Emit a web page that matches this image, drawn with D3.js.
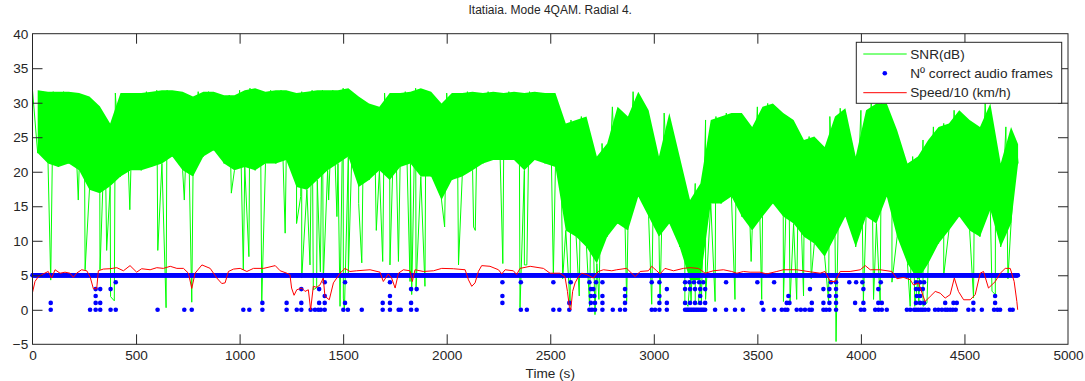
<!DOCTYPE html>
<html>
<head>
<meta charset="utf-8">
<script src="https://cdn.jsdelivr.net/npm/d3@7"></script>
<style>
  body { margin: 0; background: #fff; }
  text { font-family: "Liberation Sans", Arial, sans-serif; }
</style>
</head>
<body>
<div id="container"></div>
<script>
/* DATA */
const xTicks = [0, 500, 1000, 1500, 2000, 2500, 3000, 3500, 4000, 4500, 5000];
const yTicks = [-5, 0, 5, 10, 15, 20, 25, 30, 35, 40];
const legendLabels = ["SNR(dB)", "N\u00ba correct audio frames", "Speed/10 (km/h)"];

// SNR: one envelope pair per 50 s bin (upper edge, lower edge of the dense band)
const snrBin = 50;
const snrHigh = [31.8, 31.6, 31.6, 31.6, 31.4, 30.9, 29.5, 27.0, 31.4, 31.4,
  31.4, 31.6, 31.8, 31.8, 31.6, 30.9, 31.6, 31.6, 31.1, 31.1,
  31.8, 32.1, 31.6, 31.8, 31.8, 31.4, 31.6, 31.8, 31.8, 31.8,
  32.1, 30.9, 29.9, 29.4, 31.4, 31.4, 31.6, 32.1, 31.6, 29.9,
  31.4, 31.4, 31.6, 31.4, 31.6, 31.4, 31.6, 31.4, 31.6, 31.4,
  31.4, 27.0, 27.5, 28.0, 22.2, 24.1, 29.4, 28.0, 31.6, 28.9,
  22.2, 28.5, 22.2, 15.9, 18.3, 27.5, 28.0, 28.5, 28.5, 26.5,
  29.4, 29.9, 28.5, 27.5, 24.6, 25.1, 23.6, 28.0, 29.2, 22.2,
  28.9, 29.9, 29.9, 26.0, 21.2, 22.2, 24.6, 26.5, 27.0, 28.9,
  27.5, 26.5, 29.9, 21.2, 26.5, 24.0];
const snrLow = [22.7, 21.2, 20.7, 21.2, 20.2, 17.4, 16.9, 17.9, 19.3, 20.2,
  20.2, 20.7, 21.2, 22.2, 20.2, 19.3, 22.2, 23.1, 21.2, 20.2,
  20.7, 20.2, 21.2, 21.2, 21.7, 17.8, 17.4, 18.8, 20.2, 21.2,
  22.2, 17.8, 18.8, 20.2, 18.8, 20.7, 21.2, 19.3, 19.3, 15.9,
  18.8, 19.3, 20.2, 21.2, 21.7, 21.7, 21.7, 20.2, 21.7, 21.2,
  20.7, 11.5, 10.6, 9.1, 6.7, 10.6, 12.5, 11.5, 16.4, 13.5,
  10.6, 12.5, 9.1, 4.3, 4.3, 15.4, 15.4, 16.4, 13.5, 11.5,
  13.5, 15.4, 13.5, 12.5, 10.6, 9.6, 7.7, 10.6, 13.5, 9.1,
  13.5, 12.5, 16.4, 10.6, 6.7, 4.3, 6.7, 9.6, 11.5, 13.5,
  11.5, 10.6, 14.5, 9.1, 12.5, 21.2];
const snrEnd = 4759;
// deep SNR drops: [time, lowest value]
const snrDrops = [[88, 4.3], [221, 15.9], [254, 5.8], [326, 5.8], [358, 8.6], [377, 1.9],
  [395, 1.3], [470, 14.5], [605, 8.6], [645, 0.3], [733, 15.9], [769, 1.1], [960, 16.9],
  [1018, 5.8], [1045, 7.7], [1107, 1.2], [1220, 11.1], [1275, 12.5], [1295, 16.4],
  [1300, 4.6], [1340, 6.5], [1356, 2.9], [1372, 3.2], [1390, 5.5], [1404, 4.1],
  [1430, 15.9], [1470, 13.5], [1485, 0.5], [1501, 1.7], [1506, -0.2], [1525, 5.1],
  [1575, 15.4], [1590, 6.8], [1660, 11.5], [1691, 7.0], [1726, 6.5], [1767, 7.0],
  [1823, 4.1], [1831, 2.2], [1852, 3.1], [1895, 3.4], [1990, 12.0], [2057, 6.5],
  [2130, 12.0], [2138, 11.5], [2271, 6.7], [2354, 0.3], [2375, 6.5], [2387, 6.5],
  [2515, 5.0], [2560, 4.5], [2596, 0.5], [2640, 2.0], [2690, 0.5], [2716, -0.7],
  [2735, 1.5], [2869, 1.2], [2990, 0.8], [3030, 0.8], [3150, 1.2], [3165, 0.5],
  [3180, 1.2], [3200, 1.0], [3215, 0.8], [3230, 1.2], [3250, 1.5], [3296, 1.2],
  [3392, 1.5], [3470, 7.0], [3521, 1.5], [3626, 1.2], [3658, 1.2], [3690, 1.5],
  [3723, 2.0], [3760, 4.5], [3844, 1.2], [3880, -4.6], [4012, 1.2], [4061, 1.5],
  [4093, 1.2], [4150, 4.0], [4238, 0.5], [4260, 0.5], [4280, 0.8], [4300, 0.5],
  [4319, 1.0], [4400, 5.0], [4544, 1.7], [4633, 2.7], [4649, 2.2], [4710, 4.5]];

// correct audio frames: 5 over the whole run, except at these times
const fullFrameSpan = [0, 4759];
const frames4 = [402, 1411, 1509, 1726, 2269, 2358, 2515, 2599, 2689, 2721, 2752, 2990, 3027,
  3151, 3172, 3194, 3219, 3239, 3349, 3500, 3581, 3855, 3880, 3944, 3977, 4007, 4096,
  4266, 4286, 4305];
const frames3 = [305, 327, 377, 1298, 1384, 1828, 1855, 2696, 2708, 2861, 3063, 3151, 3175,
  3199, 3224, 3248, 3754, 3819, 3848, 3880, 4012, 4084, 4266, 4282, 4299];
const frames2 = [305, 1411, 1726, 2269, 2696, 2713, 2752, 2861, 3027, 3224, 3650, 3848, 3880,
  4270, 4286, 4648];
const frames1 = [88, 305, 327, 1110, 1227, 1298, 1384, 1411, 1509, 1691, 1726, 1828, 2269,
  2592, 2696, 2716, 2752, 2861, 3027, 3063, 3151, 3175, 3199, 3224, 3248, 3521, 3642,
  3655, 3763, 3819, 3848, 3880, 3972, 4012, 4084, 4101, 4266, 4286, 4305, 4407, 4447,
  4463, 4543, 4648];
const frames0 = [88, 278, 305, 327, 377, 402, 604, 733, 769, 1018, 1047, 1110, 1227, 1276,
  1298, 1343, 1364, 1380, 1392, 1411, 1501, 1523, 1590, 1691, 1726, 1768, 1778, 1828,
  1855, 2358, 2387, 2515, 2544, 2592, 2689, 2701, 2716, 2752, 2802, 2837, 2861, 2990,
  3006, 3027, 3063, 3151, 3160, 3167, 3175, 3183, 3191, 3199, 3207, 3215, 3224, 3232,
  3240, 3248, 3296, 3349, 3392, 3430, 3529, 3581, 3618, 3634, 3645, 3690, 3710, 3730,
  3751, 3763, 3819, 3832, 3848, 3880, 4000, 4016, 4069, 4085, 4101, 4125, 4222, 4238,
  4257, 4266, 4277, 4289, 4299, 4310, 4326, 4358, 4374, 4391, 4407, 4418, 4431, 4444,
  4458, 4519, 4543, 4584, 4643, 4659, 4672, 4720, 4733];

// speed / 10: [time, value]
const speed = [[0, 2.5], [12, 4.1], [28, 4.8], [52, 5.2], [76, 5.55], [92, 4.6], [109, 5.8],
  [133, 5.3], [157, 5.45], [181, 5.3], [197, 4.7], [213, 5.3], [237, 5.8], [262, 5.65],
  [278, 4.8], [294, 3.05], [310, 3.05], [318, 5.65], [342, 5.9], [374, 5.95], [407, 6.1],
  [439, 5.65], [471, 6.4], [503, 5.45], [527, 5.95], [568, 5.8], [600, 6.1], [632, 6.0],
  [665, 6.3], [697, 6.0], [729, 6.0], [753, 5.3], [769, 3.1], [785, 5.3], [818, 6.5],
  [858, 6.0], [890, 4.6], [914, 3.8], [930, 3.9], [946, 5.55], [971, 5.9], [1003, 6.0],
  [1035, 5.55], [1067, 6.0], [1116, 6.0], [1172, 6.4], [1196, 5.65], [1228, 5.3],
  [1243, 5.1], [1251, 3.15], [1263, 2.1], [1276, 2.9], [1300, 3.15], [1316, 2.66],
  [1332, 2.9], [1343, 0.0], [1356, 3.4], [1372, 3.25], [1388, 3.6], [1404, 4.6],
  [1412, 1.95], [1433, 1.45], [1453, 3.9], [1469, 4.6], [1485, 5.3], [1509, 6.0],
  [1533, 5.55], [1565, 5.65], [1630, 5.8], [1678, 5.45], [1694, 4.1], [1718, 5.2],
  [1734, 4.6], [1751, 3.15], [1767, 5.3], [1791, 5.8], [1823, 5.65], [1834, 4.1],
  [1847, 5.8], [1887, 5.55], [1936, 5.65], [1976, 6.0], [2032, 5.95], [2089, 5.8],
  [2105, 4.35], [2121, 3.4], [2137, 3.9], [2153, 5.55], [2169, 6.4], [2209, 6.3],
  [2250, 5.8], [2266, 5.2], [2282, 5.8], [2322, 5.65], [2338, 5.1], [2354, 6.0],
  [2403, 6.3], [2467, 6.0], [2499, 5.3], [2547, 5.3], [2571, 4.8], [2583, 2.66],
  [2592, 0.5], [2599, 0.0], [2608, 2.66], [2620, 3.9], [2636, 4.8], [2652, 5.3],
  [2676, 5.1], [2708, 4.6], [2732, 5.55], [2757, 5.8], [2797, 5.65], [2821, 5.8],
  [2869, 6.0], [2910, 4.8], [2934, 5.55], [2974, 5.65], [2990, 6.3], [3014, 5.65],
  [3030, 5.2], [3054, 6.0], [3095, 5.65], [3143, 6.0], [3175, 6.1], [3215, 6.0],
  [3248, 5.3], [3288, 5.65], [3336, 5.8], [3376, 5.55], [3401, 5.3], [3433, 5.55],
  [3465, 5.45], [3513, 5.45], [3545, 5.2], [3594, 5.55], [3626, 5.8], [3690, 5.8],
  [3755, 5.5], [3803, 5.3], [3827, 5.55], [3852, 4.1], [3876, 4.1], [3900, 5.55],
  [3948, 5.55], [3997, 5.8], [4021, 6.4], [4045, 5.8], [4093, 5.8], [4149, 5.55],
  [4174, 4.5], [4206, 4.7], [4238, 4.35], [4254, 3.6], [4278, 3.9], [4310, 1.2],
  [4335, 1.95], [4359, 2.66], [4383, 2.4], [4407, 1.7], [4431, 2.2], [4451, 4.6],
  [4471, 2.66], [4496, 1.45], [4528, 1.45], [4552, 2.2], [4576, 5.3], [4592, 5.55],
  [4616, 3.15], [4649, 4.1], [4673, 5.3], [4697, 6.0], [4721, 6.0], [4740, 4.1],
  [4753, 1.2], [4757, 0.0]];

/* LAYOUT */
const width = 1085, height = 381;
const plot = { left: 32.5, right: 1068, top: 33.7, bottom: 344.3 };
const axisColor = "#262626";
const fontSize = 13.6;

const xScale = d3.scaleLinear().domain([0, 5000]).range([plot.left, plot.right]);
const yScale = d3.scaleLinear().domain([-5, 40]).range([plot.bottom, plot.top]);

const svg = d3.select("#container")
  .append("svg")
  .attr("width", width)
  .attr("height", height)
  .style("display", "block");

svg.append("rect").attr("width", width).attr("height", height).attr("fill", "#fff");

/* SNR */
const snrBins = snrHigh.map((h, i) => ({
  t0: i * snrBin,
  tm: Math.min(i * snrBin + snrBin / 2, snrEnd),
  hi: h,
  lo: snrLow[i]
}));

const snrArea = d3.area()
  .x(d => xScale(d.tm))
  .y0(d => yScale(d.lo))
  .y1(d => yScale(d.hi));

svg.append("path")
  .datum(snrBins)
  .attr("d", snrArea)
  .attr("fill", "#00ff00");

let snrPoints = [];
snrBins.forEach(d => {
  snrPoints.push([d.t0, d.hi]);
  snrPoints.push([d.tm, d.lo]);
});
snrPoints = snrPoints.concat(snrDrops).sort((a, b) => a[0] - b[0]);

svg.append("path")
  .datum(snrPoints)
  .attr("d", d3.line().x(d => xScale(d[0])).y(d => yScale(d[1])))
  .attr("fill", "none")
  .attr("stroke", "#00ff00")
  .attr("stroke-width", 1);

/* FRAMES */
const framePoints = d3.range(fullFrameSpan[0], fullFrameSpan[1] + 1, 2).map(t => [t, 5])
  .concat(frames4.map(t => [t, 4]))
  .concat(frames3.map(t => [t, 3]))
  .concat(frames2.map(t => [t, 2]))
  .concat(frames1.map(t => [t, 1]))
  .concat(frames0.map(t => [t, 0]));

svg.append("g")
  .selectAll("circle")
  .data(framePoints)
  .join("circle")
  .attr("cx", d => xScale(d[0]))
  .attr("cy", d => yScale(d[1]))
  .attr("r", 2.3)
  .attr("fill", "#0000ff");

/* SPEED */
svg.append("path")
  .datum(speed)
  .attr("d", d3.line().x(d => xScale(d[0])).y(d => yScale(d[1])))
  .attr("fill", "none")
  .attr("stroke", "#ff0000")
  .attr("stroke-width", 1);

/* AXES */
const fmt = d3.format("d");
const xAxisBottom = svg.append("g")
  .attr("transform", `translate(0, ${plot.bottom})`)
  .call(d3.axisBottom(xScale).tickValues(xTicks).tickFormat(fmt).tickSizeInner(-10).tickSizeOuter(0).tickPadding(6.5));
const xAxisTop = svg.append("g")
  .attr("transform", `translate(0, ${plot.top})`)
  .call(d3.axisTop(xScale).tickValues(xTicks).tickSizeInner(-10).tickSizeOuter(0).tickFormat(""));
const yAxisLeft = svg.append("g")
  .attr("transform", `translate(${plot.left}, 0)`)
  .call(d3.axisLeft(yScale).tickValues(yTicks).tickFormat(fmt).tickSizeInner(-10).tickSizeOuter(0).tickPadding(4.2));
const yAxisRight = svg.append("g")
  .attr("transform", `translate(${plot.right}, 0)`)
  .call(d3.axisRight(yScale).tickValues(yTicks).tickSizeInner(-10).tickSizeOuter(0).tickFormat(""));

[xAxisBottom, xAxisTop, yAxisLeft, yAxisRight].forEach(g => {
  g.select(".domain").remove();
  g.selectAll(".tick line").attr("stroke", axisColor);
  g.selectAll(".tick text")
    .attr("fill", axisColor)
    .style("font-family", '"Liberation Sans", Arial, sans-serif')
    .style("font-size", fontSize + "px");
});
// hide end ticks that sit on the frame
[xAxisBottom, xAxisTop].forEach(g => g.selectAll(".tick line").filter(d => d === 0 || d === 5000).remove());
[yAxisLeft, yAxisRight].forEach(g => g.selectAll(".tick line").filter(d => d === -5 || d === 40).remove());

svg.append("rect")
  .attr("x", plot.left)
  .attr("y", plot.top)
  .attr("width", plot.right - plot.left)
  .attr("height", plot.bottom - plot.top)
  .attr("fill", "none")
  .attr("stroke", axisColor)
  .attr("stroke-width", 1);

/* TITLES */
svg.append("text")
  .attr("x", (plot.left + plot.right) / 2)
  .attr("y", 14)
  .attr("text-anchor", "middle")
  .attr("fill", axisColor)
  .style("font-size", "12px")
  .text("Itatiaia. Mode 4QAM. Radial 4.");

svg.append("text")
  .attr("x", (plot.left + plot.right) / 2)
  .attr("y", 378)
  .attr("text-anchor", "middle")
  .attr("fill", axisColor)
  .style("font-size", fontSize + "px")
  .text("Time (s)");

/* LEGEND */
const legend = svg.append("g").attr("transform", "translate(856.3, 42.3)");
legend.append("rect")
  .attr("width", 205.4)
  .attr("height", 61)
  .attr("fill", "#fff")
  .attr("stroke", axisColor);

const rowY = [11.7, 31, 50.4];
legendLabels.forEach((label, i) => {
  const row = legend.append("g").attr("transform", `translate(0, ${rowY[i]})`);
  if (i === 1) {
    row.append("circle").attr("cx", 28.5).attr("cy", 0).attr("r", 2.3).attr("fill", "#0000ff");
  } else {
    row.append("line")
      .attr("x1", 7).attr("x2", 50.4)
      .attr("stroke", i === 0 ? "#00ff00" : "#ff0000")
      .attr("stroke-width", 1);
  }
  row.append("text")
    .attr("x", 54)
    .attr("dy", "0.35em")
    .attr("fill", axisColor)
    .style("font-size", fontSize + "px")
    .text(label);
});
</script>
</body>
</html>
